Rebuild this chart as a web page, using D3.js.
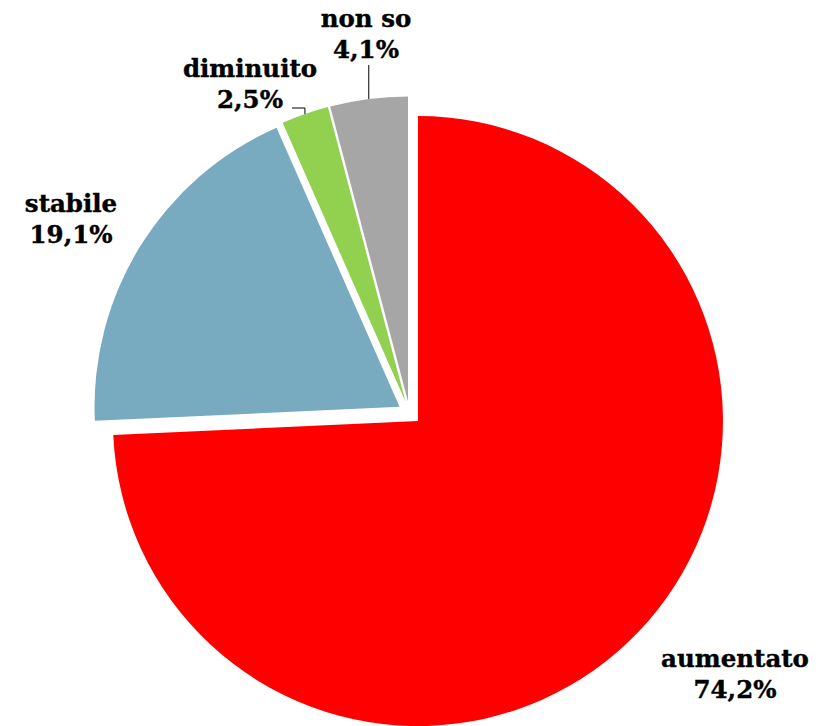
<!DOCTYPE html>
<html>
<head>
<meta charset="utf-8">
<script src="https://cdnjs.cloudflare.com/ajax/libs/d3/7.8.5/d3.min.js"></script>
<style>
  body { margin: 0; background: #fff; }
  text { font-family: "DejaVu Serif", serif; font-weight: bold; font-size: 24.5px; fill: #000; stroke: #000; stroke-width: 0.4px; }
</style>
</head>
<body>
<div id="chart"></div>
<script>
// data
var categories = ["aumentato", "stabile", "diminuito", "non so"];
var values = [74.2, 19.1, 2.5, 4.1];
var valueLabels = ["74,2%", "19,1%", "2,5%", "4,1%"];
var colors = ["#ff0000", "#78aac0", "#92d050", "#a6a6a6"];

// layout
var width = 838, height = 726;
var cx = 409.5, cy = 413, radius = 305, explode = 11.7;

// label centres (x of centre, baseline of first line) and leader style
var labelPos = {
    "aumentato": { x: 735, y: 667, leader: null },
    "stabile":   { x: 71,  y: 212, leader: null },
    "diminuito": { x: 250, y: 77,  leader: "elbow" },
    "non so":    { x: 366, y: 27,  leader: "vertical" }
};

var svg = d3.select("#chart")
    .append("svg")
    .attr("width", width)
    .attr("height", height)
    .append("g")
    .attr("transform", "translate(" + cx + "," + cy + ")");

var rows = categories.map(function (c, i) {
    return { name: c, value: values[i], label: valueLabels[i], color: colors[i] };
});

var pie = d3.pie()
    .sort(null)
    .value(function (d) { return d.value; });

var arc = d3.arc()
    .innerRadius(0)
    .outerRadius(radius);

var arcs = pie(rows);

function offset(d) {
    var a = (d.startAngle + d.endAngle) / 2;
    return [Math.sin(a) * explode, -Math.cos(a) * explode];
}

// slices
svg.selectAll("path.slice")
    .data(arcs)
    .enter()
    .append("path")
    .attr("class", "slice")
    .attr("d", arc)
    .attr("fill", function (d) { return d.data.color; })
    .attr("transform", function (d) {
        var o = offset(d);
        return "translate(" + o[0] + "," + o[1] + ")";
    });

// leader lines
arcs.forEach(function (d) {
    var p = labelPos[d.data.name];
    if (!p.leader) return;
    var a = (d.startAngle + d.endAngle) / 2;
    var o = offset(d);
    var ex = o[0] + Math.sin(a) * radius, ey = o[1] - Math.cos(a) * radius;
    var lx = p.x - cx, ly = p.y - cy;
    var pts;
    if (p.leader === "vertical") {
        pts = [[ex, ey], [ex, ly + 38]];
    } else {
        pts = [[ex, ey], [ex, ly + 31], [lx + 42, ly + 31]];
    }
    svg.append("path")
        .attr("d", d3.line()(pts))
        .attr("fill", "none")
        .attr("stroke", "#000")
        .attr("stroke-width", 1);
});

// labels
arcs.forEach(function (d) {
    var p = labelPos[d.data.name];
    var t = svg.append("text")
        .attr("text-anchor", "middle")
        .attr("x", p.x - cx)
        .attr("y", p.y - cy);
    t.append("tspan").attr("x", p.x - cx).text(d.data.name);
    t.append("tspan").attr("x", p.x - cx).attr("dy", 31).text(d.data.label);
});
</script>
</body>
</html>
